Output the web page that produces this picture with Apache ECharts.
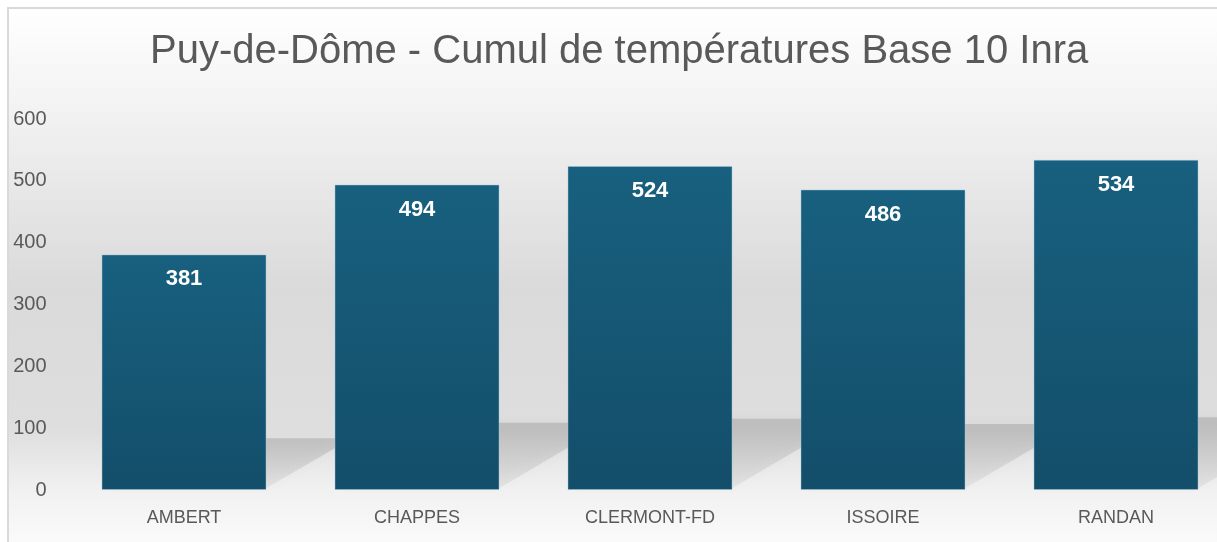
<!DOCTYPE html>
<html>
<head>
<meta charset="utf-8">
<script src="https://cdn.jsdelivr.net/npm/echarts@6/dist/echarts.min.js"></script>
<style>
html,body{margin:0;padding:0;background:#ffffff;}
#chart{width:1217px;height:542px;}
</style>
</head>
<body>
<div id="chart"></div>
<script>
const categories = ['AMBERT', 'CHAPPES', 'CLERMONT-FD', 'ISSOIRE', 'RANDAN'];
const values = [381, 494, 524, 486, 534];
const yTicks = { min: 0, max: 600, interval: 100 };
const titleText = 'Puy-de-Dôme - Cumul de températures Base 10 Inra';

const chart = echarts.init(document.getElementById('chart'), null, { renderer: 'canvas' });

const shadowData = values.map(function (v, i) { return [i, v]; });

const option = {
  animation: false,
  backgroundColor: '#ffffff',
  graphic: [
    {
      type: 'rect', z: -10, silent: true,
      shape: { x: 8, y: 8, width: 1240, height: 560 },
      style: {
        fill: new echarts.graphic.LinearGradient(0, 0, 0, 1, [
          { offset: 0, color: '#ffffff' },
          { offset: 0.2, color: '#f1f1f1' },
          { offset: 0.5, color: '#dadada' },
          { offset: 0.75, color: '#dedede' },
          { offset: 0.86, color: '#f1f1f1' },
          { offset: 1, color: '#ffffff' }
        ]),
        stroke: '#d9d9d9', lineWidth: 2
      }
    }
  ],
  title: {
    text: titleText,
    left: 145,
    top: 27,
    textStyle: {
      fontFamily: 'Liberation Sans',
      fontSize: 40,
      fontWeight: 'normal',
      color: '#595959'
    }
  },
  grid: { left: 67.5, width: 1165, top: 119, bottom: 52, outerBoundsMode: 'none', containLabel: false },
  xAxis: {
    type: 'category',
    data: categories,
    axisLine: { show: false },
    axisTick: { show: false },
    axisLabel: { color: '#595959', fontSize: 18, fontFamily: 'Liberation Sans', margin: 19 }
  },
  yAxis: {
    type: 'value',
    min: yTicks.min, max: yTicks.max, interval: yTicks.interval,
    splitLine: { show: false },
    axisLine: { show: false },
    axisTick: { show: false },
    axisLabel: { color: '#595959', fontSize: 20, fontFamily: 'Liberation Sans', margin: 21 }
  },
  series: [
    {
      type: 'custom',
      z: 1,
      silent: true,
      clip: false,
      data: shadowData,
      encode: { x: 0, y: 1 },
      renderItem: function (params, api) {
        const idx = api.value(0);
        const top = api.coord([idx, api.value(1)]);
        const base = api.coord([idx, 0]);
        const bw = 165;
        const xl = base[0] - bw / 2;
        const xr = base[0] + bw / 2;
        const h = (base[1] - top[1]) * 0.22;
        const dx = h * 1.65;
        return {
          type: 'polygon',
          shape: { points: [[xl, base[1] - 2], [xr, base[1] - 2], [xr + dx, base[1] - h], [xl + dx, base[1] - h]] },
          style: {
            fill: new echarts.graphic.LinearGradient(0, 0, 0, 1, [
              { offset: 0, color: 'rgba(90,90,90,0.22)' },
              { offset: 1, color: 'rgba(90,90,90,0.08)' }
            ]),
            shadowBlur: 12,
            shadowColor: 'rgba(90,90,90,0.25)'
          }
        };
      }
    },
    {
      type: 'bar',
      z: 2,
      data: values,
      barWidth: 165,
      itemStyle: {
        color: new echarts.graphic.LinearGradient(0, 0, 0, 1, [
          { offset: 0, color: '#18607f' },
          { offset: 1, color: '#134e6a' }
        ]),
        borderColor: 'rgba(160,200,220,0.45)',
        borderWidth: 1
      },
      label: {
        show: true,
        position: 'insideTop',
        distance: 14,
        color: '#ffffff',
        fontFamily: 'Liberation Sans',
        fontWeight: 'bold',
        fontSize: 22
      }
    }
  ]
};
chart.setOption(option);
</script>
</body>
</html>
